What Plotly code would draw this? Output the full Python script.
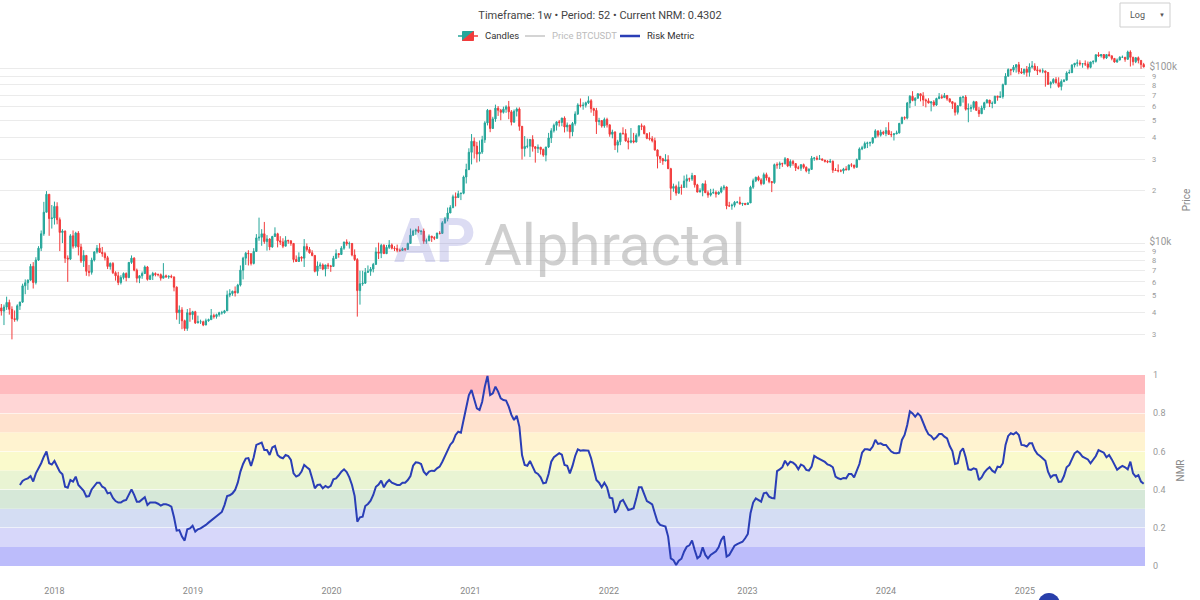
import pandas as pd
import plotly.graph_objects as go
from plotly.subplots import make_subplots

# ---------------- data (weekly BTCUSDT, weeks starting Monday 2017-08-14) ----------------
first_open = 4261.48

close_2017 = [4086, 4310, 4580, 4180, 3700, 3660, 4380, 4600, 5700, 5930, 6140, 7360, 5950, 8000, 9350, 11300, 15000, 19000, 13800, 13900]
high_2017 = [4485, 4453, 4939, 4750, 4350, 4120, 4470, 4620, 5860, 6200, 6200, 7600, 7780, 8300, 9600, 11800, 17200, 19800, 19000, 16500]
low_2017 = [3850, 3400, 4150, 3900, 2817, 3550, 3570, 4150, 4550, 5100, 5400, 6100, 5500, 5800, 7900, 9000, 11000, 16000, 11000, 12100]

close_2018 = [16200, 13600, 11500, 11700, 8200, 8100, 11000, 9600, 11400, 9500, 7900, 8500, 6900, 6800, 8000, 8900, 9350, 8850, 8700, 8250, 7350, 7650, 6770, 6500, 5950, 6350, 6700, 6350, 7750, 8200, 7000, 6300, 6500, 6700, 7300, 6200, 6500, 6700, 6600, 6600, 6300, 6500, 6400, 6450, 6400, 5600, 4000, 4150, 3600, 3250, 4000, 3900, 4050]
high_2018 = [17250, 17100, 14000, 12000, 11800, 8500, 11250, 11800, 11600, 11700, 9900, 9100, 8500, 7500, 8250, 9000, 9750, 9990, 9500, 8900, 8450, 7750, 7780, 6900, 6850, 6550, 6800, 6800, 7800, 8500, 8300, 7150, 6550, 6880, 7450, 7400, 6600, 6850, 6800, 6700, 6700, 7680, 6600, 6550, 6600, 6450, 5650, 4400, 4300, 3650, 4200, 4250, 4100]
low_2018 = [12750, 12800, 9000, 10000, 7700, 6000, 8000, 9300, 9400, 8500, 7700, 7300, 6500, 6450, 6600, 7850, 8700, 8800, 8350, 7950, 7100, 7050, 6650, 6100, 5750, 5800, 6200, 6050, 6300, 7600, 6900, 5950, 5900, 6250, 6650, 6100, 6150, 6150, 6450, 6450, 6100, 6350, 6350, 6250, 6300, 5300, 3650, 3450, 3220, 3150, 3150, 3550, 3650]

close_2019 = [3500, 3550, 3550, 3400, 3600, 3650, 3850, 3800, 3900, 4000, 4000, 4100, 5050, 5150, 5300, 5200, 5750, 7000, 8200, 8750, 8700, 7650, 8950, 10700, 10800, 11300, 10200, 10550, 9500, 10900, 11300, 10300, 10150, 9600, 10350, 10300, 9950, 8050, 7850, 8300, 8200, 9550, 9200, 8800, 8500, 6900, 7400, 7500, 7100, 7500, 7400, 7350]
high_2019 = [4100, 3850, 3650, 3600, 3700, 3700, 4200, 3950, 3950, 4050, 4100, 4150, 5350, 5450, 5350, 5650, 5850, 7450, 8350, 8900, 9100, 8200, 9350, 11250, 13970, 12000, 13200, 11100, 10650, 11000, 12300, 11450, 10950, 10650, 10950, 10450, 10350, 10000, 8500, 8850, 8400, 10540, 9950, 9500, 9100, 8500, 7850, 7750, 7650, 7500, 7700, 7500]
low_2019 = [3450, 3480, 3450, 3350, 3400, 3550, 3650, 3700, 3700, 3800, 3900, 3950, 4100, 4900, 5000, 4950, 5150, 5650, 6200, 7500, 7450, 7450, 7550, 8950, 10300, 9650, 9900, 9050, 9100, 9400, 11000, 9450, 9750, 9350, 9750, 9900, 9650, 7750, 7800, 7800, 7850, 7300, 8950, 8700, 8400, 6800, 6500, 7100, 7000, 6450, 7100, 6850]

close_2020 = [8180, 8700, 8600, 9350, 10150, 9900, 9950, 8550, 8050, 5350, 5850, 5900, 6800, 6900, 7100, 7550, 8900, 8750, 9700, 8700, 9450, 9750, 9350, 9300, 9100, 9070, 9280, 9200, 9950, 11100, 11700, 11900, 11650, 11700, 10250, 10300, 10950, 10750, 10650, 11400, 11350, 13050, 13750, 14850, 15950, 18400, 18200, 19150, 19250, 23850, 26300, 33000]
high_2020 = [8450, 9200, 8750, 9600, 10150, 10500, 10200, 10000, 9200, 8200, 6950, 6950, 7200, 7450, 7300, 7700, 9450, 10050, 9900, 9850, 9750, 10400, 9950, 9600, 9800, 9300, 9450, 9350, 10050, 12100, 11900, 12100, 12480, 11800, 12100, 10600, 11200, 10980, 10950, 11450, 11700, 13350, 14100, 15950, 16450, 18900, 19450, 19900, 19400, 24300, 28400, 34800]
low_2020 = [7650, 8100, 8250, 8550, 9150, 9650, 9300, 8400, 7900, 3800, 4450, 5700, 5850, 6750, 6500, 6800, 7650, 8100, 8200, 8700, 8650, 9250, 9200, 9000, 8850, 8900, 9050, 9000, 9150, 9950, 11000, 11150, 11400, 11150, 9900, 9900, 10250, 10150, 10400, 10600, 11200, 11400, 12900, 13300, 14850, 15800, 16200, 18200, 17600, 19000, 21900, 26100]

close_2021 = [38150, 35800, 32250, 33100, 38900, 48600, 57400, 45150, 51200, 59000, 57350, 55850, 58200, 60000, 56200, 49050, 56600, 58300, 46450, 34650, 35650, 35800, 39100, 35500, 34700, 35300, 34250, 31800, 35400, 39850, 43800, 47050, 49250, 48900, 51750, 46050, 47250, 43200, 48200, 54650, 61550, 61000, 61300, 63300, 65000, 58600, 57250, 49400, 50100, 46700, 50800, 47350]
high_2021 = [41950, 40100, 37850, 38550, 41000, 49700, 58350, 57450, 52650, 61800, 60650, 58400, 60200, 61300, 64850, 57500, 58000, 59500, 59600, 46600, 40850, 39500, 39300, 41300, 35750, 36600, 35100, 34650, 35400, 42600, 45300, 48150, 49500, 50500, 52000, 52950, 48850, 47350, 49200, 56550, 62950, 67000, 63700, 64250, 69000, 66400, 59300, 59200, 51950, 50450, 52100, 52000]
low_2021 = [28150, 30400, 28850, 29250, 32300, 37350, 47000, 43000, 45000, 49300, 53250, 50300, 54950, 55450, 51000, 47000, 48800, 52900, 43800, 30000, 31200, 34800, 31000, 33300, 28800, 32700, 32050, 31100, 29300, 34900, 37300, 42800, 43950, 46250, 46500, 42850, 43350, 39600, 40750, 46900, 53900, 59550, 57800, 59400, 62300, 55600, 53250, 42000, 47100, 45650, 45550, 45700]

close_2022 = [41850, 43100, 36250, 37900, 42400, 42200, 38350, 37700, 38400, 37800, 41250, 46800, 46400, 42150, 39700, 39450, 38450, 34050, 31300, 30300, 29450, 29900, 26600, 20550, 21050, 19300, 20850, 20800, 22600, 23300, 23200, 24300, 21500, 19550, 19950, 21800, 19400, 18800, 19300, 19450, 19050, 19550, 20650, 20900, 16300, 16300, 16450, 17100, 17100, 16750, 16850, 16600]
high_2022 = [47550, 44450, 43500, 38900, 42650, 45850, 44750, 40000, 45400, 42600, 42350, 46950, 48200, 47200, 42400, 42950, 40800, 40000, 34250, 31450, 30650, 32200, 31750, 26900, 21850, 21550, 22500, 21600, 24300, 24650, 23650, 25200, 24450, 21800, 20550, 21850, 22800, 19950, 20400, 20450, 19950, 19700, 21100, 21500, 21050, 17200, 16800, 17400, 17400, 18400, 16950, 16950]
low_2022 = [40500, 39650, 34000, 32900, 36250, 41650, 37950, 34300, 37150, 37150, 37550, 40450, 44200, 41850, 39200, 38550, 37600, 33700, 26700, 28650, 28000, 29300, 26550, 17600, 19650, 18650, 19050, 18900, 20750, 20700, 22400, 22650, 20750, 19500, 19550, 18500, 19300, 18150, 18450, 19150, 18200, 18850, 19250, 20050, 15600, 16150, 15500, 16000, 16850, 16550, 16300, 16450]

close_2023 = [16950, 20850, 22700, 23750, 22950, 21850, 24600, 23550, 22450, 22150, 28050, 27950, 28450, 28350, 30300, 27600, 29250, 28450, 26900, 26750, 28050, 27100, 25850, 26350, 30500, 30600, 30150, 30250, 29800, 29300, 29050, 29300, 26100, 26000, 25850, 25850, 26500, 26250, 27950, 27900, 27100, 29950, 34500, 35000, 37050, 37350, 37450, 39950, 43750, 41350, 43000, 42300]
high_2023 = [17050, 21250, 23350, 23950, 24250, 23450, 25250, 25250, 23900, 22600, 28450, 28900, 29200, 28800, 31000, 30500, 30050, 29850, 28650, 27650, 28200, 28450, 27400, 26800, 31450, 31000, 31500, 31850, 30350, 29650, 29750, 30250, 29650, 26800, 28150, 26400, 26900, 27500, 28050, 28600, 27950, 30400, 35200, 35950, 38000, 37950, 38000, 40250, 44700, 43450, 44400, 43800]
low_2023 = [16550, 17150, 20400, 22300, 22550, 21350, 21550, 22750, 21950, 19550, 21800, 26600, 26500, 27250, 28150, 27150, 26950, 27650, 25800, 26350, 25850, 26550, 25350, 24800, 26250, 29500, 29700, 30050, 29600, 28850, 28600, 28700, 25150, 25800, 25350, 25400, 24900, 26000, 26000, 27150, 26550, 26950, 29850, 33950, 34550, 34900, 35700, 36850, 39950, 40200, 40550, 41450]

close_2024 = [43950, 41750, 41600, 42050, 42600, 48300, 52150, 51750, 63100, 68950, 65300, 67200, 71300, 69350, 65700, 64950, 63100, 64000, 61500, 66950, 68500, 67750, 69650, 66650, 64250, 62700, 55850, 60800, 68150, 68250, 58150, 58700, 59450, 64200, 57300, 54850, 59150, 63350, 65600, 62800, 62850, 69000, 68000, 68750, 80350, 89850, 97900, 97250, 101100, 104450, 95200, 93700]
high_2024 = [45900, 49000, 43550, 42550, 43900, 48550, 52800, 52950, 64000, 70000, 73750, 68100, 71750, 71300, 72800, 66850, 67200, 64750, 65500, 67700, 71950, 70600, 71950, 70200, 66950, 63850, 63850, 61400, 68350, 69400, 70000, 62750, 61800, 65000, 64500, 59800, 61000, 64150, 66500, 65550, 64450, 69400, 69500, 73600, 81500, 93450, 99600, 98850, 104000, 105250, 108350, 99950]
low_2024 = [40750, 41500, 40300, 38550, 41900, 42250, 47700, 50550, 50900, 59000, 64550, 60750, 66950, 64500, 60650, 59600, 62800, 56550, 60200, 60750, 66300, 66650, 68500, 65050, 63400, 58400, 53500, 54250, 60650, 63450, 57150, 49000, 56100, 57850, 57200, 52550, 54550, 57500, 62700, 59850, 58900, 62450, 65050, 67450, 66850, 80200, 89350, 90800, 94650, 94150, 92200, 92500]

close_2025 = [98350, 94500, 101350, 102600, 97700, 96450, 96150, 96250, 94250, 80750, 82600, 86100, 82400, 78350, 83750, 85200, 93750, 94300, 104100, 106450, 107000, 105650, 105750, 105500, 100950, 108350, 109200, 119100, 117300, 119450, 114200, 119300, 117400, 113500, 108250, 111150, 115250, 115250, 112150, 123500, 115150, 108650, 114550, 110550, 104700, 101500]
high_2025 = [99000, 102700, 106400, 109600, 106450, 102500, 98800, 99500, 96500, 95000, 84100, 87450, 88750, 88500, 86100, 86500, 95750, 97900, 104950, 106650, 111950, 110700, 106800, 110550, 108950, 108500, 110550, 119500, 123200, 120250, 119800, 119300, 124450, 117650, 113650, 113400, 116800, 117900, 115300, 125700, 126200, 116000, 114900, 116400, 110800, 107000]
low_2025 = [91550, 89250, 89250, 99500, 96150, 91250, 94100, 93400, 78250, 80000, 76600, 81150, 81550, 77150, 74500, 83000, 85100, 92800, 93400, 100700, 102000, 103100, 100400, 102650, 98200, 99600, 105100, 107450, 115700, 114700, 112000, 112650, 116800, 110700, 107250, 107250, 110600, 114400, 108600, 111600, 102000, 103500, 106650, 106300, 98950, 100800]

# Risk metric (NRM), one value per week starting 2017-10-02
nmr_values = [
    .424, .445, .454, .459, .471, .442, .485, .510, .538, .572,
    .599, .538, .531, .550, .524, .494, .480, .415, .410, .450,
    .442, .468, .424, .407, .394, .363, .366, .401, .421, .436,
    .436, .415, .407, .380, .384, .356, .340, .332, .332, .342,
    .346, .372, .401, .372, .337, .337, .349, .360, .319, .332,
    .333, .332, .326, .316, .323, .323, .319, .311, .255, .185,
    .188, .154, .133, .192, .197, .211, .180, .192, .197, .204,
    .215, .227, .239, .250, .262, .272, .283, .319, .366, .370,
    .380, .398, .436, .494, .534, .562, .565, .524, .569, .634,
    .642, .646, .607, .607, .581, .621, .628, .581, .569, .564,
    .581, .576, .555, .485, .468, .475, .494, .529, .517, .506,
    .459, .407, .424, .426, .407, .419, .410, .419, .454, .459,
    .475, .494, .506, .492, .464, .424, .366, .232, .255, .258,
    .314, .325, .342, .372, .415, .426, .447, .412, .436, .450,
    .436, .429, .424, .424, .436, .436, .450, .471, .525, .543,
    .541, .534, .494, .478, .494, .499, .497, .511, .520, .546,
    .576, .607, .635, .651, .686, .703, .698, .764, .825, .895,
    .921, .878, .825, .817, .860, .939, .995, .895, .904, .939,
    .913, .878, .869, .866, .834, .791, .764, .787, .729, .581,
    .529, .525, .550, .520, .490, .482, .464, .433, .436, .482,
    .546, .569, .581, .590, .583, .529, .525, .485, .524, .576,
    .611, .604, .606, .604, .604, .564, .511, .450, .436, .412,
    .436, .412, .358, .354, .279, .297, .337, .346, .319, .293,
    .297, .302, .354, .412, .412, .377, .340, .332, .323, .276,
    .232, .215, .209, .206, .154, .040, .031, .005, .028, .038,
    .075, .101, .108, .133, .084, .040, .052, .098, .058, .040,
    .058, .066, .077, .098, .136, .157, .049, .058, .084, .106,
    .115, .120, .127, .145, .168, .276, .332, .354, .346, .337,
    .380, .384, .363, .356, .354, .497, .506, .517, .551, .529,
    .546, .541, .529, .506, .531, .524, .503, .499, .520, .576,
    .567, .560, .553, .545, .532, .527, .517, .468, .459, .455,
    .461, .459, .482, .482, .464, .503, .534, .593, .611, .611,
    .607, .625, .660, .639, .642, .634, .634, .616, .599, .592,
    .590, .593, .660, .686, .738, .810, .799, .782, .799, .785,
    .747, .716, .689, .681, .663, .674, .691, .691, .677, .668,
    .628, .602, .534, .538, .599, .616, .569, .506, .503, .511,
    .506, .450, .464, .489, .506, .517, .499, .489, .520, .517,
    .538, .634, .681, .695, .689, .700, .686, .634, .632, .625,
    .642, .642, .607, .586, .576, .565, .551, .494, .464, .475,
    .476, .440, .442, .471, .517, .529, .564, .590, .601, .590,
    .572, .567, .558, .538, .558, .576, .607, .599, .593, .569,
    .581, .558, .529, .504, .515, .524, .517, .506, .546, .485,
    .468, .476, .442, .4302,
]

band_colors = ['rgb(188,188,251)', 'rgb(215,215,250)', 'rgb(212,221,243)', 'rgb(214,232,216)',
               'rgb(233,244,211)', 'rgb(250,250,204)', 'rgb(255,243,208)', 'rgb(255,226,206)',
               'rgb(255,214,214)', 'rgb(255,187,191)']

year_ticks = ['2018-01-01', '2019-01-01', '2020-01-01', '2021-01-01', '2022-01-01', '2023-01-01', '2024-01-01', '2025-01-01']
year_labels = ['2018', '2019', '2020', '2021', '2022', '2023', '2024', '2025']

legend_names = ['Candles', 'Price BTCUSDT', 'Risk Metric']
title_text = 'Timeframe: 1w • Period: 52 • Current NRM: 0.4302'

# ---------------- assemble ----------------
close = close_2017 + close_2018 + close_2019 + close_2020 + close_2021 + close_2022 + close_2023 + close_2024 + close_2025
high = high_2017 + high_2018 + high_2019 + high_2020 + high_2021 + high_2022 + high_2023 + high_2024 + high_2025
low = low_2017 + low_2018 + low_2019 + low_2020 + low_2021 + low_2022 + low_2023 + low_2024 + low_2025
assert len(close) == len(high) == len(low) == 431, (len(close), len(high), len(low))
assert len(nmr_values) == 424, len(nmr_values)

dates = pd.date_range('2017-08-14', periods=len(close), freq='7D')
opens = [first_open] + close[:-1]
high = [max(h, o, c) for h, o, c in zip(high, opens, close)]
low = [min(l, o, c) for l, o, c in zip(low, opens, close)]
nmr_dates = dates[len(dates) - len(nmr_values):]

FONT = 'Roboto'
GREEN = '#26a69a'
RED = '#f23b3b'
BLUE = 'rgb(42,62,182)'

fig = make_subplots(rows=2, cols=1, shared_xaxes=True)

fig.add_trace(go.Candlestick(
    x=dates, open=opens, high=high, low=low, close=close, name=legend_names[0],
    increasing=dict(line=dict(color=GREEN, width=1), fillcolor=GREEN),
    decreasing=dict(line=dict(color=RED, width=1), fillcolor=RED),
), row=1, col=1)
fig.add_trace(go.Scatter(
    x=dates, y=close, name=legend_names[1], mode='lines',
    line=dict(color='rgba(160,160,160,0.7)', width=1), visible='legendonly'), row=1, col=1)
fig.add_trace(go.Scatter(
    x=nmr_dates, y=nmr_values, name=legend_names[2], mode='lines',
    line=dict(color=BLUE, width=2)), row=2, col=1)

# pixel -> paper helpers (plot area: x 0..1145, y 50..566)
def PX(px):
    return px / 1145.0


def PY(py):
    return 1 + (50 - py) / 516.0


shapes = []
for k, col in enumerate(band_colors):
    shapes.append(dict(type='rect', xref='x2 domain', yref='y2', x0=0, x1=1,
                       y0=k / 10, y1=(k + 1) / 10, fillcolor=col, line=dict(width=0), layer='below'))

# compact legend drawn above the chart
cx, cy = 468.0, 36.0
inc_path = 'M{},{} L{},{} L{},{} Z'.format(PX(cx - 5.5), PY(cy + 4.5), PX(cx - 5.5), PY(cy - 4.5), PX(cx + 5.5), PY(cy - 4.5))
dec_path = 'M{},{} L{},{} L{},{} Z'.format(PX(cx + 5.5), PY(cy - 4.5), PX(cx + 5.5), PY(cy + 4.5), PX(cx - 5.5), PY(cy + 4.5))
shapes += [
    dict(type='path', xref='paper', yref='paper', path=inc_path, fillcolor=GREEN, line=dict(color=GREEN, width=1)),
    dict(type='path', xref='paper', yref='paper', path=dec_path, fillcolor=RED, line=dict(color=RED, width=1)),
    dict(type='line', xref='paper', yref='paper', x0=PX(cx - 10), x1=PX(cx - 5.5), y0=PY(cy), y1=PY(cy), line=dict(color=GREEN, width=1.5)),
    dict(type='line', xref='paper', yref='paper', x0=PX(cx + 5.5), x1=PX(cx + 10), y0=PY(cy), y1=PY(cy), line=dict(color=RED, width=1.5)),
    dict(type='line', xref='paper', yref='paper', x0=PX(525), x1=PX(545), y0=PY(cy), y1=PY(cy), line=dict(color='#d4d4d4', width=2)),
    dict(type='line', xref='paper', yref='paper', x0=PX(620), x1=PX(640), y0=PY(cy), y1=PY(cy), line=dict(color=BLUE, width=2.5)),
    # scale selector box (top right)
    dict(type='rect', xref='paper', yref='paper', x0=PX(1120), x1=PX(1170), y0=PY(27), y1=PY(3),
         fillcolor='white', line=dict(color='#cfcfcf', width=1)),
    # partially visible brand mark at the bottom
    dict(type='circle', xref='paper', yref='paper', x0=PX(1038), x1=PX(1060), y0=PY(616), y1=PY(593),
         fillcolor='rgb(40,62,170)', line=dict(width=0)),
]

legend_annotations = [
    dict(text=legend_names[0], x=PX(483), y=PY(cy), color='#333'),
    dict(text=legend_names[1], x=PX(550), y=PY(cy), color='#bcbcbc'),
    dict(text=legend_names[2], x=PX(645), y=PY(cy), color='#333'),
]
annotations = []
for a in legend_annotations:
    annotations.append(dict(text=a['text'], xref='paper', yref='paper', x=a['x'], y=a['y'],
                            xanchor='left', yanchor='middle', showarrow=False,
                            font=dict(family=FONT, size=9.5, color=a['color'])))
annotations += [
    dict(text='Log', xref='paper', yref='paper', x=PX(1128), y=PY(15), xanchor='left', yanchor='middle',
         showarrow=False, font=dict(family=FONT, size=9, color='#555')),
    dict(text='▼', xref='paper', yref='paper', x=PX(1162), y=PY(14.5), xanchor='center', yanchor='middle',
         showarrow=False, font=dict(family=FONT, size=6, color='#555')),
    dict(text='Alphractal', xref='paper', yref='paper', x=0.537, y=0.622, showarrow=False,
         font=dict(family=FONT, size=58, color='rgba(160,160,160,0.5)')),
    dict(text='<b>AP</b>', xref='paper', yref='paper', x=PX(435), y=PY(240), showarrow=False,
         font=dict(family=FONT, size=62, color='rgba(120,120,210,0.26)')),
]

fig.update_layout(
    width=1200, height=600,
    margin=dict(l=0, r=55, t=50, b=34),
    paper_bgcolor='white', plot_bgcolor='white',
    font=dict(family=FONT, size=10, color='#555'),
    title=dict(text=title_text, x=0.5, xanchor='center',
               y=0.975, yanchor='middle', font=dict(family=FONT, size=11, color='#444')),
    showlegend=False,
    shapes=shapes,
    annotations=annotations,
)

fig.update_xaxes(rangeslider_visible=False, showgrid=False, zeroline=False, showline=False,
                 range=['2017-08-10 12:00', '2025-11-13 12:00'])
fig.update_xaxes(tickvals=year_ticks, ticktext=year_labels, ticks='', ticklabelstandoff=18,
                 tickfont=dict(family=FONT, size=9, color='#888'), row=2, col=1)
fig.update_xaxes(showticklabels=False, row=1, col=1)

fig.update_layout(
    yaxis=dict(domain=[0.4186, 1], type='log', side='right', range=[3.389, 5.103],
               dtick='D1', tickprefix='$', showgrid=True, gridcolor='#ebebeb', zeroline=False,
               ticklabelstandoff=6,
               tickfont=dict(family=FONT, size=10, color='#999'),
               title=dict(text='Price', standoff=6, font=dict(family=FONT, size=10, color='#888'))),
    yaxis2=dict(domain=[0, 0.3702], side='right', range=[0, 1], dtick=0.2, showgrid=True,
                gridcolor='rgba(255,255,255,0.5)', zeroline=False, ticklabelstandoff=7,
                tickfont=dict(family=FONT, size=9, color='#999'),
                title=dict(text='NMR', standoff=12, font=dict(family=FONT, size=10, color='#888'))),
)

fig.write_html('out.html')
